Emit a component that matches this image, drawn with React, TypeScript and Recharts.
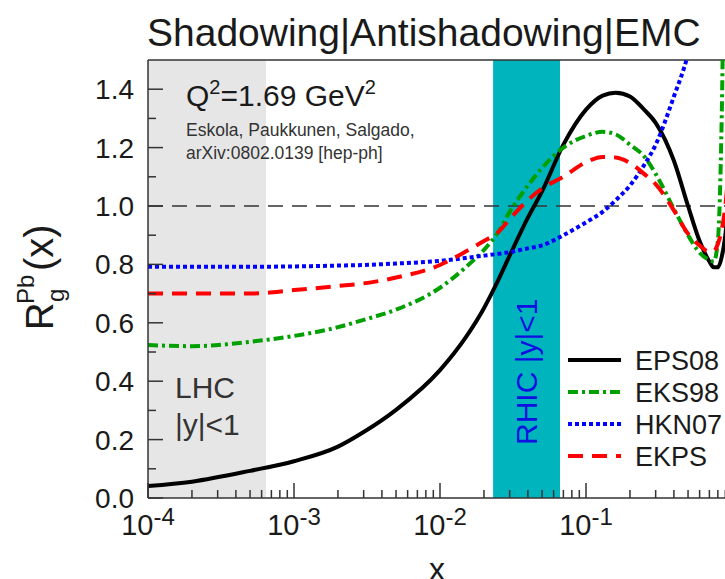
import React from 'react';
import {
  LineChart,
  Line,
  XAxis,
  YAxis,
  ReferenceArea,
  ReferenceLine,
} from 'recharts';

// x grid (log scale) and the four nuclear modification curves
const X = [1e-4, 2e-4, 5e-4, 1e-3, 2e-3, 3e-3, 5e-3, 0.01, 0.015, 0.02, 0.025, 0.03, 0.04, 0.05, 0.07, 0.1, 0.13, 0.16, 0.2, 0.25, 0.3, 0.4, 0.5, 0.6, 0.7, 0.75, 0.8, 0.85, 0.9, 1.0];
const EPS08 = [0.041, 0.056, 0.093, 0.126, 0.176, 0.226, 0.302, 0.438, 0.55, 0.65, 0.745, 0.83, 0.96, 1.05, 1.21, 1.33, 1.378, 1.388, 1.375, 1.33, 1.285, 1.155, 1.0, 0.88, 0.81, 0.79, 0.79, 0.825, 0.9, 1.2];
const EKS98 = [0.524, 0.52, 0.535, 0.555, 0.585, 0.61, 0.645, 0.72, 0.79, 0.85, 0.91, 0.98, 1.07, 1.13, 1.2, 1.24, 1.254, 1.245, 1.21, 1.17, 1.11, 0.99, 0.9, 0.84, 0.815, 0.81, 0.88, 1.3, 2.2, 3.0];
const HKN07 = [0.792, 0.792, 0.792, 0.793, 0.796, 0.798, 0.803, 0.812, 0.822, 0.83, 0.836, 0.842, 0.855, 0.865, 0.9, 0.944, 0.98, 1.02, 1.07, 1.14, 1.21, 1.375, 1.52, 1.7, 1.9, null, null, null, null, null];
const EKPS = [0.7, 0.7, 0.7, 0.712, 0.726, 0.735, 0.755, 0.798, 0.844, 0.88, 0.91, 0.955, 1.02, 1.06, 1.1, 1.15, 1.168, 1.166, 1.147, 1.11, 1.075, 0.985, 0.905, 0.865, 0.843, 0.845, 0.87, 0.918, 1.0, 1.3];

const X_TICKS = [
  1e-4, 2e-4, 3e-4, 4e-4, 5e-4, 6e-4, 7e-4, 8e-4, 9e-4,
  1e-3, 2e-3, 3e-3, 4e-3, 5e-3, 6e-3, 7e-3, 8e-3, 9e-3,
  0.01, 0.02, 0.03, 0.04, 0.05, 0.06, 0.07, 0.08, 0.09,
  0.1, 0.2, 0.3, 0.4, 0.5, 0.6, 0.7, 0.8, 0.9, 1,
];
const Y_TICKS = [0, 0.1, 0.2, 0.3, 0.4, 0.5, 0.6, 0.7, 0.8, 0.9, 1.0, 1.1, 1.2, 1.3, 1.4];

// shaded acceptance regions
const LHC_BAND = [1e-4, 6.43e-4];
const RHIC_BAND = [0.0231, 0.0664];

const SERIES = [
  { key: 'eps08', name: 'EPS08', color: '#000000', dash: undefined },
  { key: 'eks98', name: 'EKS98', color: '#00a000', dash: '10 4 3 4' },
  { key: 'hkn07', name: 'HKN07', color: '#0000ff', dash: '4 3' },
  { key: 'ekps', name: 'EKPS', color: '#ff0000', dash: '15 9' },
];

const data = X.map((x, i) => ({
  x,
  eps08: EPS08[i],
  eks98: EKS98[i],
  hkn07: HKN07[i],
  ekps: EKPS[i],
}));

const AXIS = '#333';
const TEXT = '#1a1a1a';

const YTick = (props: any) => {
  const { x, y, payload } = props;
  const v = payload.value;
  const major = Math.round(v * 10) % 2 === 0;
  return (
    <g>
      <line x1={x} x2={x + (major ? 15 : 8)} y1={y} y2={y} stroke={AXIS} strokeWidth={1.5} />
      {major && (
        <text x={x - 14} y={y + 10} textAnchor="end" fontSize={28} fill={TEXT}>
          {v.toFixed(1)}
        </text>
      )}
    </g>
  );
};

const XTick = (props: any) => {
  const { x, y, payload } = props;
  const v = payload.value;
  const lg = Math.log10(v);
  const major = Math.abs(lg - Math.round(lg)) < 1e-6;
  return (
    <g>
      <line x1={x} x2={x} y1={y} y2={y - (major ? 15 : 8)} stroke={AXIS} strokeWidth={1.5} />
      {major && (
        <text x={x} y={y + 37} textAnchor="middle" fontSize={29} fill={TEXT}>
          {Math.round(lg) === 0 ? '1' : '10'}
          {Math.round(lg) !== 0 && (
            <tspan dy={-10} fontSize={24}>{Math.round(lg)}</tspan>
          )}
        </text>
      )}
    </g>
  );
};

const Annotations = () => (
  <svg
    width={740}
    height={579}
    style={{ position: 'absolute', left: 0, top: 0, pointerEvents: 'none' }}
  >
    <text x={147} y={46} fontSize={39} fill={TEXT}>Shadowing|Antishadowing|EMC</text>

    <text x={186} y={106} fontSize={30} fill={TEXT}>
      Q<tspan dy={-12} fontSize={20}>2</tspan>
      <tspan dy={12}>=1.69 GeV</tspan>
      <tspan dy={-12} fontSize={20}>2</tspan>
    </text>
    <text x={186} y={136} fontSize={17.5} fill="#333">Eskola, Paukkunen, Salgado,</text>
    <text x={186} y={159} fontSize={17.5} fill="#333">arXiv:0802.0139 [hep-ph]</text>

    <text x={175} y={398} fontSize={30} fill="#333">LHC</text>
    <text x={175} y={435} fontSize={30} fill="#333">|y|&lt;1</text>

    <text
      x={0}
      y={0}
      fontSize={30}
      fill="#1010e0"
      transform="translate(537,445) rotate(-90)"
    >
      RHIC |y|&lt;1
    </text>

    <g transform="translate(53,330) rotate(-90)" fill={TEXT}>
      <text x={0} y={0} fontSize={38}>R</text>
      <text x={28} y={11} fontSize={24}>g</text>
      <text x={26} y={-19} fontSize={24}>Pb</text>
      <text x={59} y={0} fontSize={40}>(x)</text>
    </g>

    <text x={437} y={580} textAnchor="middle" fontSize={32} fill={TEXT}>x</text>

    {SERIES.map((s, i) => (
      <g key={s.key}>
        <line
          x1={568}
          x2={621}
          y1={360 + i * 32}
          y2={360 + i * 32}
          stroke={s.color}
          strokeWidth={4}
          strokeDasharray={s.dash}
        />
        <text x={635} y={370 + i * 32} fontSize={27} fill={TEXT}>{s.name}</text>
      </g>
    ))}
  </svg>
);

export default function App() {
  return (
    <div
      style={{
        position: 'absolute',
        left: 0,
        top: 0,
        width: 725,
        height: 579,
        overflow: 'hidden',
        background: '#fff',
        fontFamily: '"Liberation Sans", Arial, sans-serif',
      }}
    >
      <div style={{ position: 'relative', width: 740, height: 579 }}>
        <LineChart
          width={740}
          height={579}
          data={data}
          margin={{ top: 60, right: 8, left: 0, bottom: 0 }}
        >
          <ReferenceArea x1={LHC_BAND[0]} x2={LHC_BAND[1]} fill="#e6e6e6" fillOpacity={1} stroke="none" />
          <ReferenceArea x1={RHIC_BAND[0]} x2={RHIC_BAND[1]} fill="#00b4be" fillOpacity={1} stroke="none" />
          <XAxis
            dataKey="x"
            type="number"
            scale="log"
            domain={[1e-4, 1]}
            allowDataOverflow
            ticks={X_TICKS}
            interval={0}
            height={81}
            tickSize={0}
            tickMargin={0}
            tickLine={false}
            axisLine={{ stroke: AXIS, strokeWidth: 1.5 }}
            tick={<XTick />}
          />
          <YAxis
            type="number"
            domain={[0, 1.5]}
            allowDataOverflow
            ticks={Y_TICKS}
            interval={0}
            width={148}
            tickSize={0}
            tickMargin={0}
            tickLine={false}
            axisLine={{ stroke: AXIS, strokeWidth: 1.5 }}
            tick={<YTick />}
          />
          <ReferenceLine y={1.5} stroke={AXIS} strokeWidth={1.5} />
          <ReferenceLine y={1} stroke={AXIS} strokeWidth={1.5} strokeDasharray="15 9" />
          {SERIES.map((s) => (
            <Line
              key={s.key}
              type="monotone"
              dataKey={s.key}
              stroke={s.color}
              strokeWidth={4}
              strokeDasharray={s.dash}
              dot={false}
              activeDot={false}
              isAnimationActive={false}
            />
          ))}
        </LineChart>
        <Annotations />
      </div>
    </div>
  );
}
